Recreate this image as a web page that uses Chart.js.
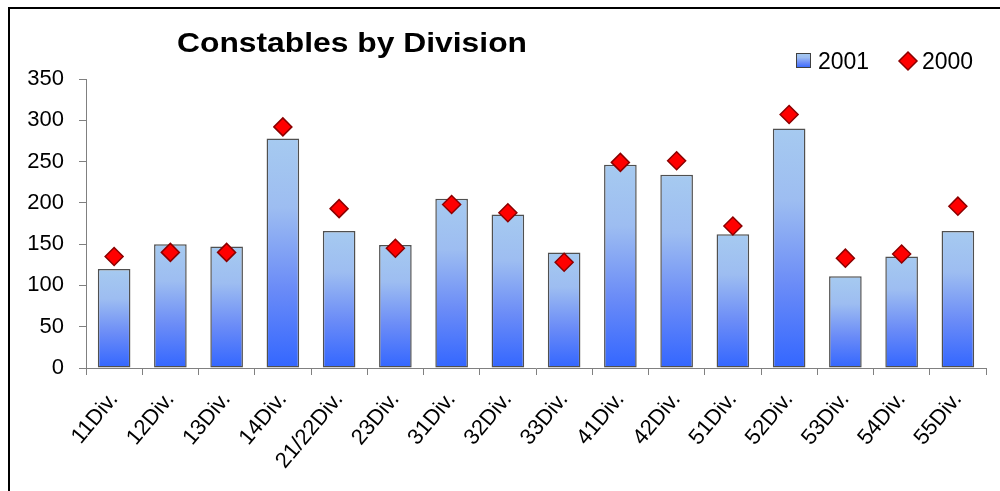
<!DOCTYPE html>
<html>
<head>
<meta charset="utf-8">
<title>Constables by Division</title>
<script src="https://cdn.jsdelivr.net/npm/chart.js@4/dist/chart.umd.min.js"></script>
<style>
  html, body { margin: 0; padding: 0; background: #fff; overflow: hidden; }
  #wrap { position: relative; width: 1000px; height: 491px; }
  #frame { position: absolute; left: 8px; top: 7px; width: 1000px; height: 500px;
           border-left: 2px solid #000; border-top: 2px solid #000; }
  #chart { position: absolute; left: 0; top: 0; }
</style>
</head>
<body>
<div id="wrap">
  <div id="frame"></div>
  <canvas id="chart" width="1000" height="491"></canvas>
</div>
<script>
const divisions = ['11Div.', '12Div.', '13Div.', '14Div.', '21/22Div.', '23Div.', '31Div.', '32Div.',
  '33Div.', '41Div.', '42Div.', '51Div.', '52Div.', '53Div.', '54Div.', '55Div.'];
const constables2001 = [120, 150, 147, 278, 166, 149, 205, 186, 140, 246, 234, 162, 290, 111, 135, 166];
const constables2000 = [135, 140, 140, 292, 193, 145, 198, 188, 128, 249, 251, 172, 307, 133, 138, 196];
const yMin = 0;
const yMax = 350;
const yStep = 50;

const FONT = '"Liberation Sans", Arial, sans-serif';

// light blue at the top of each bar, strong blue at the base
function blueGradient(c, top, bottom) {
  const g = c.createLinearGradient(0, top, 0, bottom);
  g.addColorStop(0, '#a6caf0');
  g.addColorStop(0.3, '#9dbdf1');
  g.addColorStop(0.65, '#6b8cf7');
  g.addColorStop(1, '#3366ff');
  return g;
}

function barFill(ctx) {
  const chart = ctx.chart;
  if (!chart.chartArea || ctx.type !== 'data') return '#7fa0f5';
  const y = chart.scales.y;
  return blueGradient(chart.ctx, y.getPixelForValue(ctx.raw), y.getPixelForValue(0));
}

// title and legend sit in the top band above the plot
const header = {
  id: 'header',
  afterDraw(chart) {
    const c = chart.ctx;
    c.save();
    c.fillStyle = '#000';
    c.textBaseline = 'alphabetic';

    const title = 'Constables by Division';
    c.font = 'bold 27px ' + FONT;
    const tw = c.measureText(title).width;
    c.translate(177, 52);
    c.scale(350 / tw, 1);
    c.fillText(title, 0, 0);
    c.setTransform(1, 0, 0, 1, 0, 0);

    const [bars, marks] = chart.data.datasets;
    c.font = '23px ' + FONT;

    // 2001 swatch
    c.fillStyle = blueGradient(c, 53, 68);
    c.fillRect(796, 53, 15, 15);
    c.strokeStyle = '#404040';
    c.lineWidth = 1;
    c.strokeRect(796.5, 53.5, 14, 14);
    c.fillStyle = '#000';
    c.fillText(bars.label, 818, 69);

    // 2000 diamond
    const cx = 908, cy = 61, r = 9;
    c.beginPath();
    c.moveTo(cx, cy - r);
    c.lineTo(cx + r, cy);
    c.lineTo(cx, cy + r);
    c.lineTo(cx - r, cy);
    c.closePath();
    c.fillStyle = marks.backgroundColor;
    c.fill();
    c.strokeStyle = marks.borderColor;
    c.lineWidth = 1.5;
    c.stroke();
    c.fillStyle = '#000';
    c.fillText(marks.label, 922, 69);
    c.restore();
  }
};

new Chart(document.getElementById('chart'), {
  type: 'bar',
  data: {
    labels: divisions,
    datasets: [
      {
        label: '2001',
        data: constables2001,
        backgroundColor: barFill,
        borderColor: '#505050',
        borderWidth: 1.5,
        borderSkipped: false,
        categoryPercentage: 1,
        barPercentage: 0.58,
        order: 2
      },
      {
        type: 'line',
        label: '2000',
        data: constables2000,
        showLine: false,
        pointStyle: 'rectRot',
        pointRadius: 9,
        pointHoverRadius: 9,
        backgroundColor: '#ff0000',
        borderColor: '#8b0000',
        borderWidth: 1.5,
        order: 1
      }
    ]
  },
  options: {
    responsive: false,
    animation: false,
    layout: { padding: { top: 79, right: 14, bottom: 0, left: 0 } },
    plugins: {
      legend: { display: false },
      title: { display: false },
      tooltip: { enabled: false }
    },
    scales: {
      x: {
        afterFit(scale) { scale.height = 123; },
        grid: { drawOnChartArea: false, drawTicks: true, tickLength: 7, color: '#808080' },
        border: { color: '#808080', width: 1 },
        ticks: {
          color: '#000',
          font: { family: FONT, size: 22 },
          minRotation: 50,
          maxRotation: 50,
          padding: 12
        }
      },
      y: {
        min: yMin,
        max: yMax,
        afterFit(scale) { scale.width = 86; },
        grid: { drawOnChartArea: false, drawTicks: true, tickLength: 7, color: '#808080' },
        border: { color: '#808080', width: 1 },
        ticks: {
          stepSize: yStep,
          color: '#000',
          font: { family: FONT, size: 22 },
          padding: 15
        }
      }
    }
  },
  plugins: [header]
});
</script>
</body>
</html>
